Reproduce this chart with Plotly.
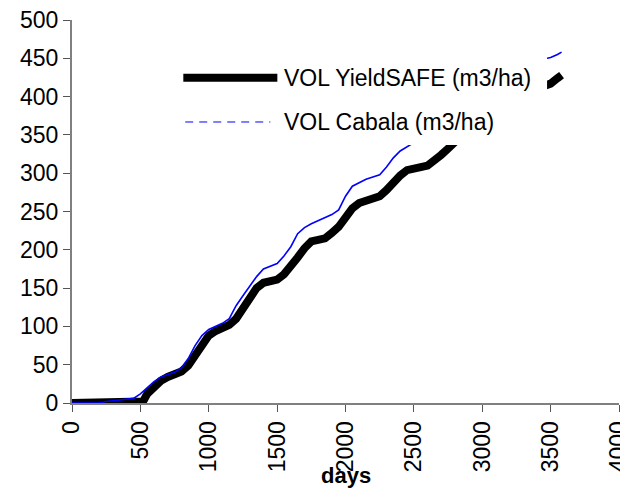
import plotly.graph_objects as go

# Cumulative stand volume over time (days) for two growth models
days_yieldsafe = [0, 100, 200, 300, 400, 500, 520, 550, 600, 650, 700, 750, 800, 850,
                  900, 950, 1000, 1050, 1100, 1150, 1200, 1250, 1300, 1350, 1400, 1450,
                  1500, 1550, 1600, 1650, 1700, 1750, 1800, 1850, 1900, 1950, 2000, 2050,
                  2100, 2150, 2200, 2250, 2300, 2350, 2400, 2450, 2500, 2550, 2600, 2650,
                  2700, 2750, 2800, 2850, 2900, 2950, 3000, 3050, 3100, 3150, 3200, 3250,
                  3300, 3350, 3400, 3450, 3500, 3550, 3580]
vol_yieldsafe = [0, 0, 0, 0, 0, 0, 2, 12, 22, 29, 34, 37, 41, 49,
                 62, 76, 88, 94, 98, 102, 110, 123, 138, 150, 157, 158,
                 161, 168, 178, 190, 202, 211, 213, 215, 222, 230, 242, 254,
                 261, 264, 266, 270, 278, 288, 297, 304, 307, 308, 310, 316,
                 324, 332, 340, 350, 358, 362, 365, 372, 382, 392, 398, 401,
                 404, 407, 410, 413, 417, 424, 428]

days_cabala = [0, 200, 250, 300, 350, 400, 450, 500, 550, 600, 650, 700, 750, 800, 850,
               900, 950, 1000, 1050, 1100, 1150, 1200, 1250, 1300, 1350, 1400, 1450,
               1500, 1550, 1600, 1650, 1700, 1750, 1800, 1850, 1900, 1950, 2000, 2050,
               2100, 2150, 2200, 2250, 2300, 2350, 2400, 2450, 2500, 2550, 2600, 2650,
               2700, 2750, 2800, 2850, 2900, 2950, 3000, 3050, 3100, 3150, 3200, 3250,
               3300, 3350, 3400, 3450, 3500, 3550, 3580]
vol_cabala = [0, 0, 2, 3, 3.5, 5, 6, 12, 20, 28, 34, 37, 40, 46, 58,
              75, 88, 96, 100, 104, 110, 127, 140, 152, 165, 175, 179,
              182, 192, 204, 221, 229, 234, 238, 241, 246, 252, 270, 283,
              288, 292, 295, 298, 308, 320, 329, 334, 340, 346, 352, 360,
              370, 380, 388, 393, 397, 402, 408, 416, 425, 432, 436, 439,
              442, 445, 447, 449, 451, 455, 458]

name_yieldsafe = "VOL YieldSAFE (m3/ha)"
name_cabala = "VOL Cabala (m3/ha)"

x_ticks = [0, 500, 1000, 1500, 2000, 2500, 3000, 3500, 4000]
y_ticks = [0, 50, 100, 150, 200, 250, 300, 350, 400, 450, 500]

FONT = "Arial, Liberation Sans, sans-serif"

fig = go.Figure()
fig.add_trace(go.Scatter(x=days_yieldsafe, y=vol_yieldsafe, mode="lines",
                         name=name_yieldsafe, line=dict(color="black", width=8),
                         showlegend=False))
fig.add_trace(go.Scatter(x=days_cabala, y=vol_cabala, mode="lines",
                         name=name_cabala, line=dict(color="#0000ff", width=1.6),
                         showlegend=False))

# Legend box drawn over the curves
fig.add_shape(type="rect", xref="paper", yref="paper", x0=0.189, x1=0.8685,
              y0=0.6736, y1=0.935, fillcolor="white", line=dict(width=0), layer="above")
fig.add_shape(type="line", xref="paper", yref="paper", x0=0.2035, x1=0.3754,
              y0=0.849, y1=0.849, line=dict(color="black", width=8), layer="above")
fig.add_shape(type="line", xref="paper", yref="paper", x0=0.207, x1=0.3626,
              y0=0.7337, y1=0.7337, line=dict(color="#0000ff", width=1, dash="8px,6px"),
              layer="above")
fig.add_annotation(xref="paper", yref="paper", x=0.3843, y=0.849, text=name_yieldsafe,
                   showarrow=False, xanchor="left", yanchor="middle",
                   font=dict(family=FONT, size=23, color="black"))
fig.add_annotation(xref="paper", yref="paper", x=0.3843, y=0.7337, text=name_cabala,
                   showarrow=False, xanchor="left", yanchor="middle",
                   font=dict(family=FONT, size=23, color="black"))

# Axis title, kept inside the bottom edge
fig.add_annotation(xref="paper", yref="paper", x=0.5, y=-0.2245, text="<b>days</b>",
                   showarrow=False, xanchor="center", yanchor="bottom", borderpad=0,
                   font=dict(family=FONT, size=22, color="black"))

fig.update_layout(
    width=620, height=489,
    margin=dict(l=72, r=1, t=20, b=86, autoexpand=False),
    paper_bgcolor="white", plot_bgcolor="white",
    font=dict(family=FONT, size=23, color="black"),
    xaxis=dict(range=[0, 4000], tickvals=x_ticks, ticktext=[str(v) for v in x_ticks],
               tickangle=-90, showgrid=False, zeroline=False, showline=True,
               linecolor="#808080", linewidth=2, ticks="outside", ticklen=7,
               tickcolor="#555555", tickwidth=1, ticklabeloverflow="allow",
               automargin=False),
    yaxis=dict(range=[0, 500], tickvals=y_ticks, ticktext=[str(v) for v in y_ticks],
               showgrid=False, zeroline=False, showline=True,
               linecolor="#808080", linewidth=2, ticks="outside", ticklen=7,
               tickcolor="#555555", tickwidth=1, automargin=False),
)

fig.write_html("out.html")
